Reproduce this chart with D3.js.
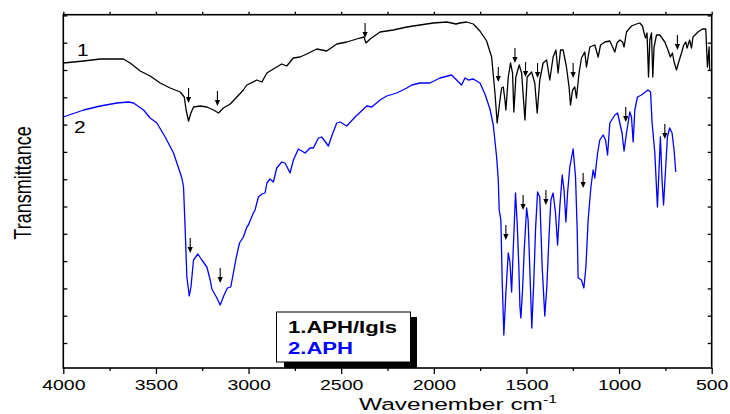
<!DOCTYPE html>
<html>
<head>
<meta charset="utf-8">
<style>
  body { margin: 0; background: #fff; }
  svg { display: block; font-family: "Liberation Sans", Arial, sans-serif; }
</style>
</head>
<body>
<div id="chart"></div>
<script src="https://cdnjs.cloudflare.com/ajax/libs/d3/7.8.5/d3.min.js"></script>
<script>
// spectrum 1: APH/Igls (black)
const wn1 = [4000,3890,3800,3746,3676,3639,3585,3531,3477,3423,3369,3347,3337,3324,3311,3297,3261,3225,3189,3162,
  3136,3099,3063,3028,3009,2955,2928,2901,2866,2821,2794,2758,2722,2686,2632,2578,2524,2470,2416,2377,
  2366,2344,2290,2219,2146,2075,2003,1931,1904,1881,1859,1823,1787,1751,1715,1688,1670,1658,1643,1634,
  1625,1616,1611,1598,1586,1575,1568,1557,1539,1526,1508,1496,1472,1455,1442,1428,1410,1391,1374,1356,
  1341,1329,1316,1302,1284,1270,1262,1251,1239,1230,1216,1203,1185,1176,1158,1131,1113,1100,1077,1050,
  1035,1023,1011,996,981,973,960,933,906,888,874,865,857,849,841,834,825,818,811,798,
  780,753,736,723,712,703,690,678,663,651,640,633,619,609,601,574,550,532,523,514,511];
const tr1 = [305,307,309,309,309,305,297,292,285,280,276,271,258,247,255,261,262,261,258,255,
  260,264,271,278,283,288,286,295,299,304,302,310,311,314,319,317,324,326,329,331,
  325,329,336,338,341,343,345,346,345,344,345,346,344,337,327,311,275,245,268,280,
  281,268,258,291,305,295,256,291,303,295,248,291,296,285,255,288,305,308,288,311,
  318,295,318,318,301,281,263,278,281,270,295,310,316,301,321,323,311,323,326,327,
  321,316,325,328,326,321,336,342,344,345,342,335,330,335,291,328,335,291,321,333,
  333,326,318,311,315,306,298,306,315,323,326,320,328,320,331,336,339,339,301,321,298];

// spectrum 2: APH (blue)
const wn2 = [4000,3890,3800,3710,3648,3621,3567,3531,3495,3450,3405,3378,3360,3351,3342,3333,3320,3311,3297,3274,
  3252,3225,3207,3198,3171,3153,3132,3114,3096,3082,3067,3049,3028,3009,3001,2974,2965,2947,2928,2911,
  2901,2884,2866,2848,2821,2803,2776,2758,2731,2695,2668,2650,2623,2605,2569,2551,2524,2506,2470,2425,
  2362,2335,2290,2254,2200,2146,2119,2075,2021,1967,1904,1877,1850,1832,1814,1787,1751,1724,1697,1679,
  1661,1652,1647,1638,1631,1622,1611,1598,1589,1580,1572,1559,1550,1541,1535,1530,1521,1512,1499,1491,
  1481,1471,1460,1451,1440,1428,1415,1401,1390,1379,1368,1356,1343,1332,1320,1307,1297,1287,1278,1266,
  1248,1235,1226,1221,1203,1190,1179,1167,1152,1140,1131,1116,1104,1086,1073,1062,1050,1023,1008,996,
  984,973,960,942,933,924,915,901,879,844,830,822,807,793,786,777,768,760,750,739,
  727,714,703,694];
const tr2 = [251,258,262,265,266,265,258,250,245,231,215,200,190,181,138,91,72,81,108,114,
  108,101,88,79,70,63,73,80,81,95,110,125,131,141,143,155,158,171,174,175,
  185,189,186,200,206,205,195,208,219,215,220,220,230,231,222,232,245,246,242,251,
  262,261,268,272,275,280,283,285,285,290,293,288,283,290,288,289,285,274,259,243,
  211,188,158,148,88,33,75,115,106,76,115,175,145,101,61,50,78,118,160,148,
  95,40,88,138,176,171,101,52,81,128,168,175,155,123,161,193,178,146,175,201,
  219,191,138,90,88,80,101,148,181,198,190,215,228,233,228,213,245,253,255,245,
  235,217,235,256,251,226,258,271,273,278,276,246,215,161,191,231,188,163,195,231,
  240,235,218,196];

// marked bands (arrow tips)
const arrowWn1 = [3324, 3168, 2371, 1652, 1562, 1505, 1440, 1248, 685];
const arrowTr1 = [265, 262, 330, 286, 305, 291, 290, 290, 318];
const arrowWn2 = [3315, 3153, 1611, 1518, 1395, 1194, 964, 753];
const arrowTr2 = [115, 85, 128, 158, 163, 180, 246, 229];

const xMajor = [4000, 3500, 3000, 2500, 2000, 1500, 1000, 500];
const xMinor = [3750, 3250, 2750, 2250, 1750, 1250, 750];
const seriesNames = ["1.APH/Igls", "2.APH"];
const seriesColors = ["#000000", "#0000ff"];

const W = 730, H = 414;
const pLeft = 63.3, pRight = 711.7, pTop = 14.7, pBottom = 368;
const SX = 1.3; // horizontal stretch of the original figure

const x = d3.scaleLinear().domain([4000, 500]).range([pLeft, pRight]);
const y = d3.scaleLinear().domain([0, pBottom - pTop]).range([pBottom, pTop]);
const yTicks = d3.range(25, pBottom - pTop, 27.3);

const svg = d3.select("#chart").append("svg").attr("width", W).attr("height", H);

// axes
const gBottom = svg.append("g").attr("transform", `translate(0,${pBottom})`)
  .call(d3.axisBottom(x).tickValues(xMajor).tickSize(6).tickPadding(5).tickFormat(d3.format("d")));
gBottom.append("g").call(d3.axisBottom(x).tickValues(xMinor).tickSize(3).tickFormat(""));
svg.append("g").attr("transform", `translate(0,${pTop})`)
  .call(d3.axisTop(x).tickValues(xMajor.concat(xMinor)).tickSize(3).tickFormat(""));
svg.append("g").attr("transform", `translate(${pLeft},0)`)
  .call(d3.axisLeft(y).tickValues(yTicks).tickSize(-4).tickFormat(""));
svg.append("g").attr("transform", `translate(${pRight},0)`)
  .call(d3.axisRight(y).tickValues(yTicks).tickSize(-4).tickFormat(""));

svg.selectAll(".domain").remove();
svg.selectAll(".tick line").attr("stroke", "#000").attr("stroke-width", 1.3);
gBottom.selectAll(".tick text")
  .attr("font-size", 15).attr("fill", "#000")
  .attr("font-family", "Liberation Sans, Arial, sans-serif")
  .attr("transform", `scale(${SX},1)`);

// frame
svg.append("rect")
  .attr("x", pLeft).attr("y", pTop)
  .attr("width", pRight - pLeft).attr("height", pBottom - pTop)
  .attr("fill", "none").attr("stroke", "#000").attr("stroke-width", 1.6);

// spectra
const line = d3.line().x(d => x(d[0])).y(d => y(d[1]));
const spectra = [d3.zip(wn1, tr1), d3.zip(wn2, tr2)];
spectra.forEach((s, i) => {
  svg.append("path").datum(s)
    .attr("d", line)
    .attr("fill", "none")
    .attr("stroke", seriesColors[i])
    .attr("stroke-width", 1.3)
    .attr("stroke-linejoin", "round");
});

// arrows
function drawArrows(wns, trs) {
  const g = svg.append("g");
  wns.forEach((w, i) => {
    const ax = x(w), ay = y(trs[i]);
    g.append("line")
      .attr("x1", ax).attr("x2", ax)
      .attr("y1", ay - 15).attr("y2", ay - 4)
      .attr("stroke", "#000").attr("stroke-width", 1.1);
    g.append("path")
      .attr("d", `M${ax - 2.6},${ay - 6}L${ax + 2.6},${ay - 6}L${ax},${ay}Z`)
      .attr("fill", "#000");
  });
}
drawArrows(arrowWn1, arrowTr1);
drawArrows(arrowWn2, arrowTr2);

// curve numbers
svg.append("text").attr("transform", `translate(77,56) scale(${SX},1)`)
  .attr("font-size", 16).text("1");
svg.append("text").attr("transform", `translate(74,133) scale(${SX},1)`)
  .attr("font-size", 16).text("2");

// legend
svg.append("rect").attr("x", 284).attr("y", 317).attr("width", 133).attr("height", 51).attr("fill", "#000");
svg.append("rect").attr("x", 276.5).attr("y", 312).attr("width", 134).attr("height", 50)
  .attr("fill", "#fff").attr("stroke", "#000").attr("stroke-width", 1);
seriesNames.forEach((n, i) => {
  svg.append("text")
    .attr("transform", `translate(288,${332.5 + i * 21}) scale(1.38,1)`)
    .attr("font-size", 16).attr("font-weight", "bold")
    .attr("fill", seriesColors[i]).text(n);
});

// axis titles
svg.append("text")
  .attr("transform", `translate(30.5,183) scale(${SX},1) rotate(-90)`)
  .attr("text-anchor", "middle").attr("font-size", 18).text("Transmittance");

const xt = svg.append("text")
  .attr("transform", `translate(359,410) scale(1.44,1)`)
  .attr("font-size", 17);
xt.append("tspan").text("Wavenember cm");
xt.append("tspan").attr("dy", -7).attr("font-size", 11).text("-1");
</script>
</body>
</html>
